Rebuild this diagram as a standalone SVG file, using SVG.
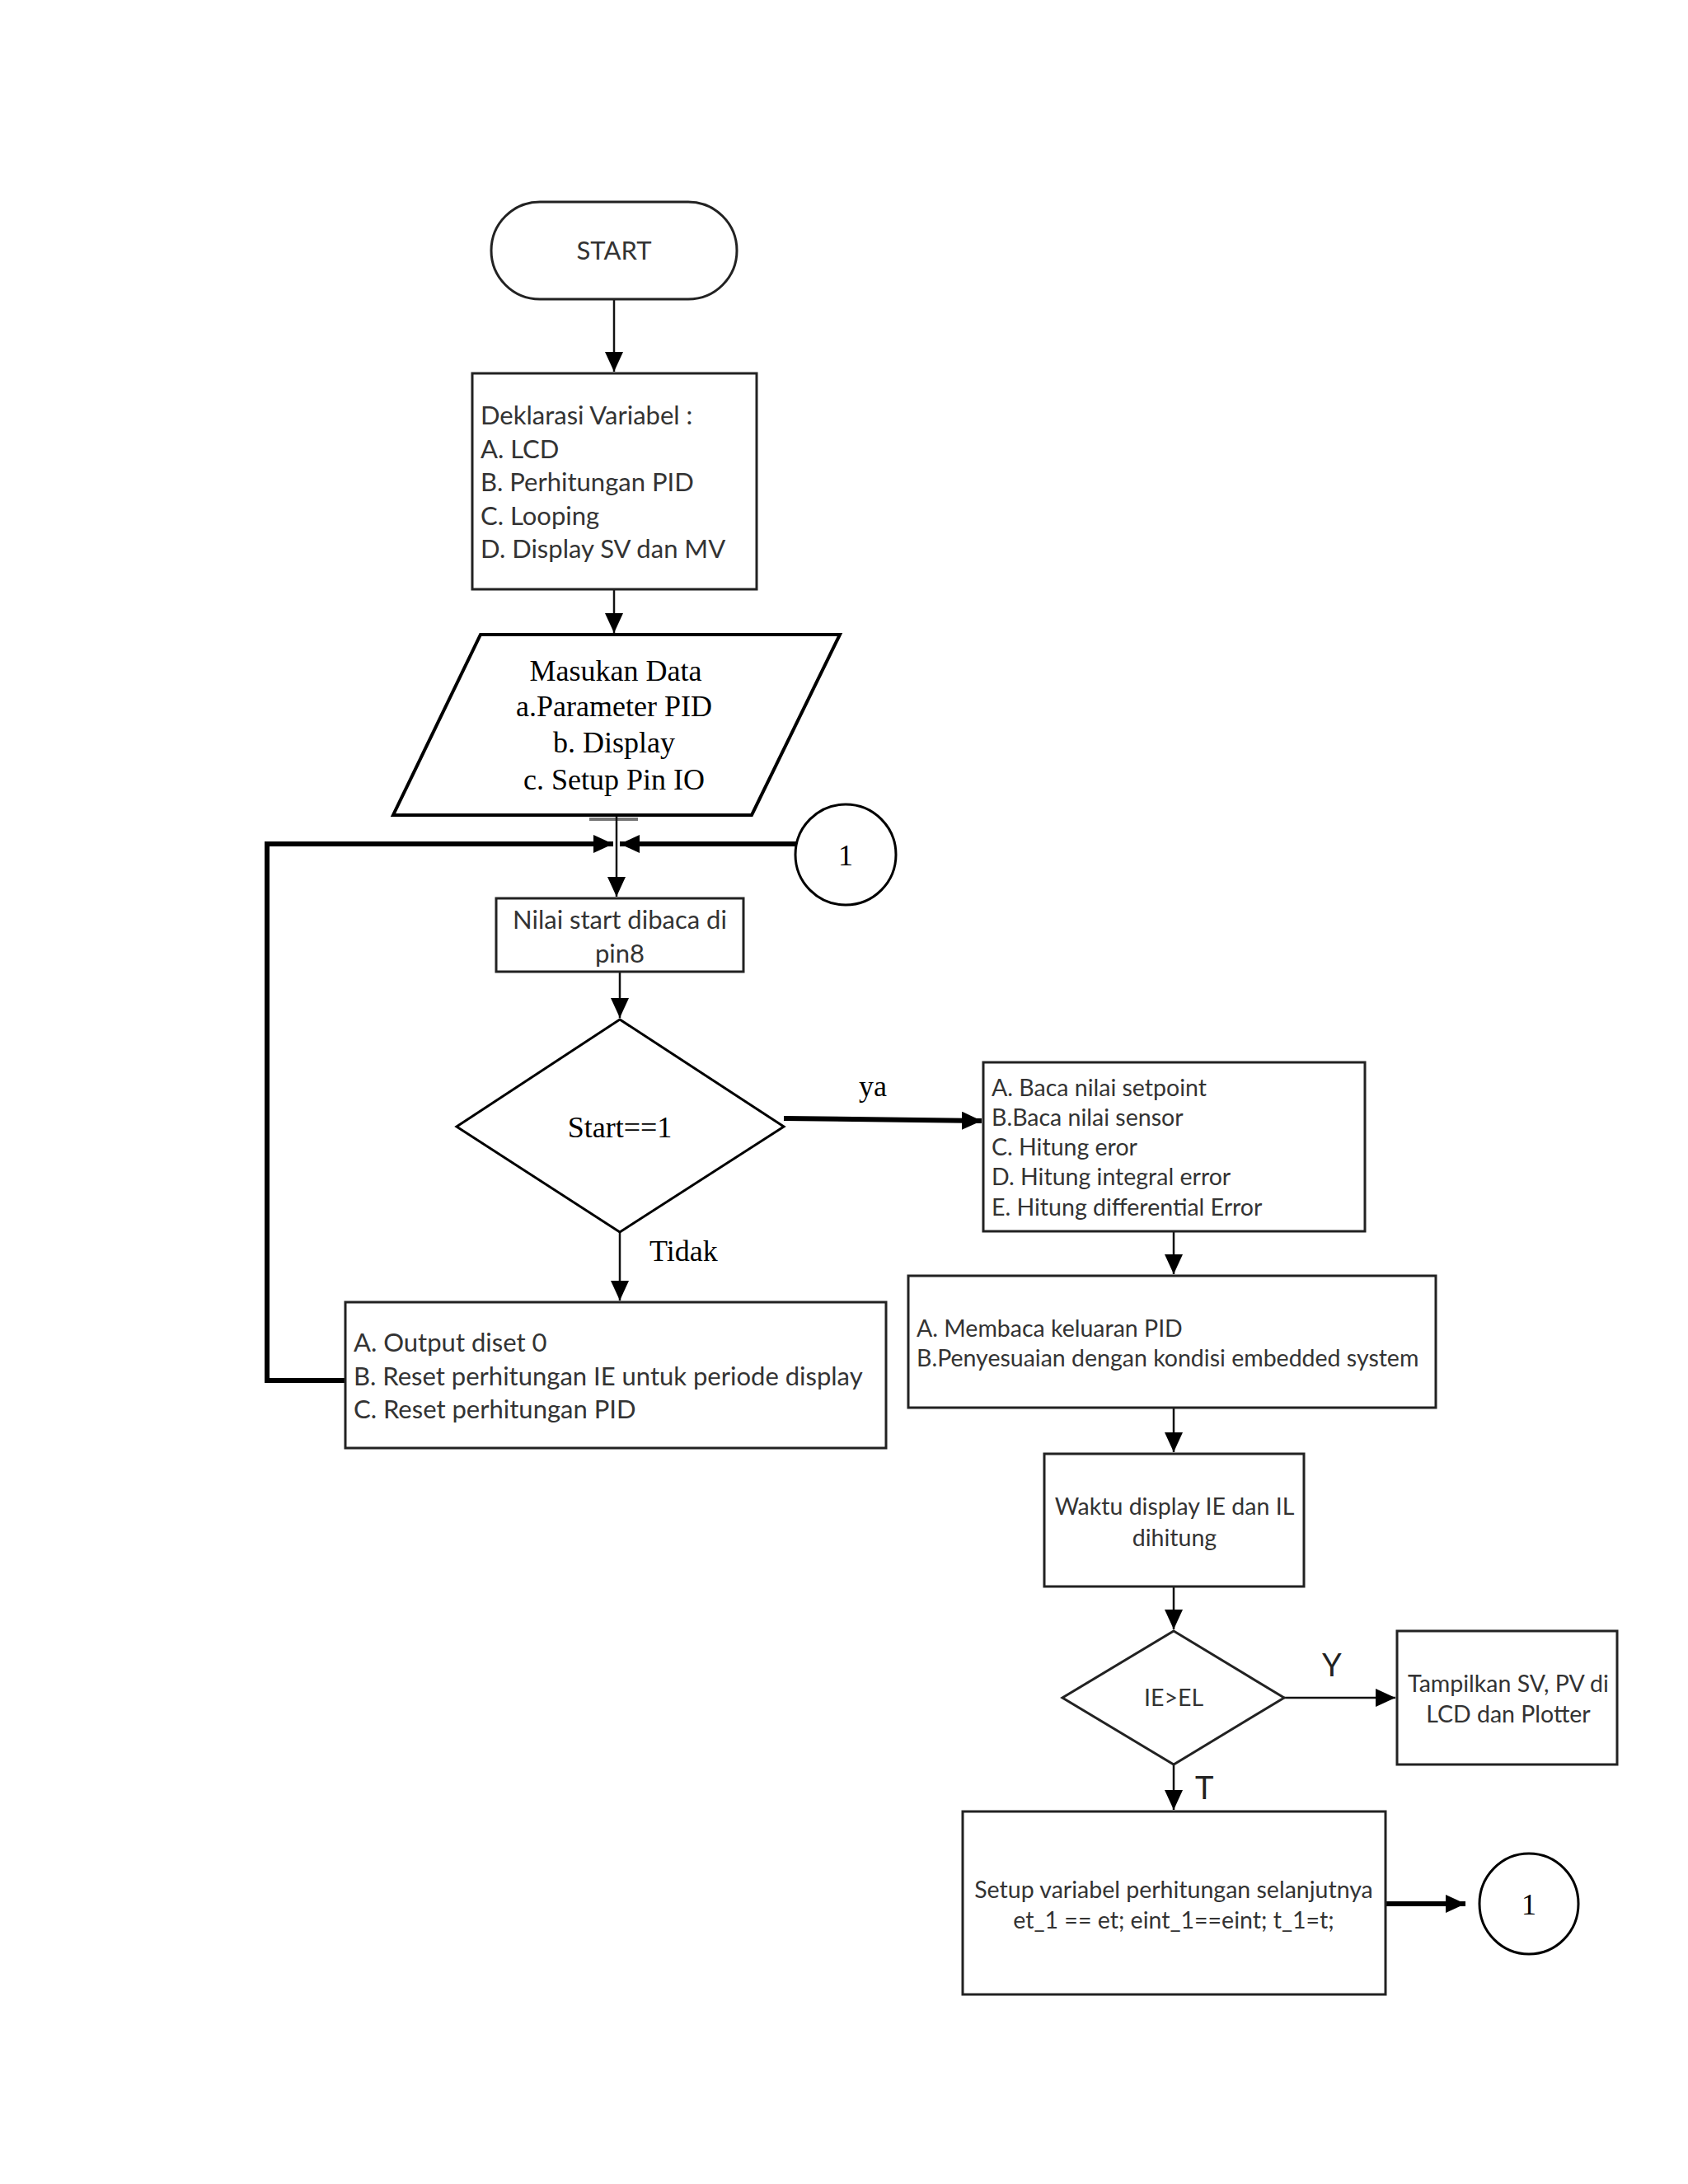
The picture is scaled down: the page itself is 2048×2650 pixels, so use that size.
<svg xmlns="http://www.w3.org/2000/svg" width="2048" height="2650" viewBox="0 0 2048 2650">
<style>
.shape{fill:#fff;stroke:#222;stroke-width:3}
.ln{fill:none;stroke:#111;stroke-width:2.5}
.thick{fill:none;stroke:#000;stroke-width:6}
.cal{font-family:Lato,"Open Sans","Liberation Sans",sans-serif;fill:#333;font-size:31px}
.sm{font-size:28.5px}
.tnr{font-family:"Liberation Serif","Times New Roman",serif;fill:#000;font-size:36px}
.c{text-anchor:middle}
</style>
<defs>
<marker id="ah" markerUnits="userSpaceOnUse" markerWidth="26" markerHeight="22" refX="24" refY="11" orient="auto">
<path d="M0,0 L24,11 L0,22 Z" fill="#000"/>
</marker>
</defs>
<rect width="2048" height="2650" fill="#fff"/>

<g id="connectors">
<line class="ln" x1="745" y1="363" x2="745" y2="451" marker-end="url(#ah)"/>
<line class="ln" x1="745" y1="715" x2="745" y2="768" marker-end="url(#ah)"/>
<line x1="715" y1="994" x2="774" y2="994" stroke="#777" stroke-width="4"/>
<line class="ln" x1="748" y1="989" x2="748" y2="1088" marker-end="url(#ah)"/>
<polyline class="thick" points="419,1675 324,1675 324,1024 744,1024" marker-end="url(#ah)"/>
<line class="thick" x1="966" y1="1024" x2="752" y2="1024" marker-end="url(#ah)"/>
<line class="ln" x1="752" y1="1179" x2="752" y2="1235" marker-end="url(#ah)"/>
<line class="thick" x1="951" y1="1357" x2="1191" y2="1360" marker-end="url(#ah)"/>
<line class="ln" x1="752" y1="1495" x2="752" y2="1578" marker-end="url(#ah)"/>
<line class="ln" x1="1424" y1="1494" x2="1424" y2="1546" marker-end="url(#ah)"/>
<line class="ln" x1="1424" y1="1708" x2="1424" y2="1762" marker-end="url(#ah)"/>
<line class="ln" x1="1424" y1="1925" x2="1424" y2="1977" marker-end="url(#ah)"/>
<line class="ln" x1="1558" y1="2060" x2="1693" y2="2060" marker-end="url(#ah)"/>
<line class="ln" x1="1424" y1="2141" x2="1424" y2="2196" marker-end="url(#ah)"/>
<line class="thick" x1="1681" y1="2310" x2="1778" y2="2310" marker-end="url(#ah)"/>
<text class="tnr" x="1042" y="1330">ya</text>
<text class="tnr" x="788" y="1530">Tidak</text>
<text x="1604" y="2034" font-family="Lato,'Liberation Sans',sans-serif" font-size="38" fill="#222">Y</text>
<text x="1450" y="2183" font-family="Lato,'Liberation Sans',sans-serif" font-size="38" fill="#222">T</text>
</g>

<g id="start">
<rect class="shape" x="596" y="245" width="298" height="118" rx="59" ry="59"/>
<text class="cal c" x="745" y="315">START</text>
</g>

<g id="deklarasi">
<rect class="shape" x="573" y="453" width="345" height="262"/>
<text class="cal" x="583" y="515">Deklarasi Variabel :</text>
<text class="cal" x="583" y="556">A. LCD</text>
<text class="cal" x="583" y="596">B. Perhitungan PID</text>
<text class="cal" x="583" y="637">C. Looping</text>
<text class="cal" x="583" y="677">D. Display SV dan MV</text>
</g>

<g id="masukan">
<polygon class="shape" points="583,770 1019,770 912,989 477,989" style="stroke-width:4;stroke:#000"/>
<text class="tnr c" x="747" y="826">Masukan Data</text>
<text class="tnr c" x="745" y="869">a.Parameter PID</text>
<text class="tnr c" x="745" y="913">b. Display</text>
<text class="tnr c" x="745" y="958">c. Setup Pin IO</text>
</g>

<g id="konektor1-atas">
<ellipse class="shape" cx="1026" cy="1037" rx="61" ry="61" style="stroke:#000"/>
<text class="tnr c" x="1026" y="1050">1</text>
</g>

<g id="nilai-start">
<rect class="shape" x="602" y="1090" width="300" height="89"/>
<text class="cal c" x="752" y="1127">Nilai start dibaca di</text>
<text class="cal c" x="752" y="1168">pin8</text>
</g>

<g id="start-cek">
<polygon class="shape" points="752,1237 951,1367 752,1495 554,1367" style="stroke:#000"/>
<text class="tnr c" x="752" y="1380">Start==1</text>
</g>

<g id="baca">
<rect class="shape" x="1193" y="1289" width="463" height="205"/>
<text class="cal sm" x="1203" y="1330">A. Baca nilai setpoint</text>
<text class="cal sm" x="1203" y="1366">B.Baca nilai sensor</text>
<text class="cal sm" x="1203" y="1402">C. Hitung eror</text>
<text class="cal sm" x="1203" y="1438">D. Hitung integral error</text>
<text class="cal sm" x="1203" y="1475">E. Hitung differential Error</text>
</g>

<g id="reset">
<rect class="shape" x="419" y="1580" width="656" height="177"/>
<text class="cal" x="429" y="1640">A. Output diset 0</text>
<text class="cal" x="429" y="1681">B. Reset perhitungan IE untuk periode display</text>
<text class="cal" x="429" y="1721">C. Reset perhitungan PID</text>
</g>

<g id="keluaran">
<rect class="shape" x="1102" y="1548" width="640" height="160"/>
<text class="cal sm" x="1112" y="1622">A. Membaca keluaran PID</text>
<text class="cal sm" x="1112" y="1658">B.Penyesuaian dengan kondisi embedded system</text>
</g>

<g id="waktu">
<rect class="shape" x="1267" y="1764" width="315" height="161"/>
<text class="cal sm c" x="1425" y="1838">Waktu display IE dan IL</text>
<text class="cal sm c" x="1425" y="1876">dihitung</text>
</g>

<g id="ie-el">
<polygon class="shape" points="1424,1979 1558,2060 1424,2141 1289,2060"/>
<text class="cal sm c" x="1424" y="2070">IE&gt;EL</text>
</g>

<g id="tampilkan">
<rect class="shape" x="1695" y="1979" width="267" height="162"/>
<text class="cal sm c" x="1830" y="2053">Tampilkan SV, PV di</text>
<text class="cal sm c" x="1830" y="2090">LCD dan Plotter</text>
</g>

<g id="setup">
<rect class="shape" x="1168" y="2198" width="513" height="222"/>
<text class="cal sm c" x="1424" y="2303">Setup variabel perhitungan selanjutnya</text>
<text class="cal sm c" x="1424" y="2340">et_1 == et; eint_1==eint; t_1=t;</text>
</g>

<g id="konektor1-bawah">
<ellipse class="shape" cx="1855" cy="2310" rx="60" ry="61" style="stroke:#000"/>
<text class="tnr c" x="1855" y="2323">1</text>
</g>
</svg>
